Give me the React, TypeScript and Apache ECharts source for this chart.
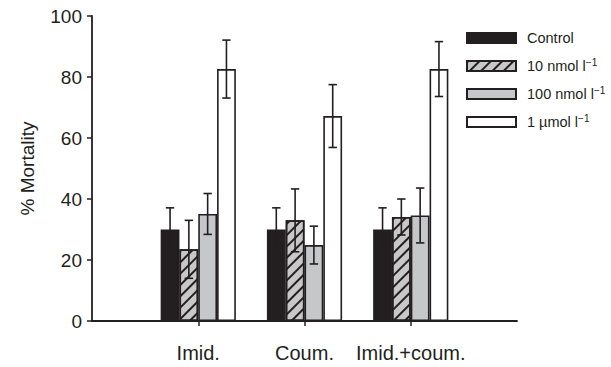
import React, { useEffect, useRef } from "react";
import * as echarts from "echarts";

const categories = ["", "Imid.", "Coum.", "Imid.+coum.", ""];
const seriesNames = ["Control", "10 nmol l{s|−1}", "100 nmol l{s|−1}", "1 µmol l{s|−1}"];
const legendIds = ["Control", "10 nmol", "100 nmol", "1 µmol"];
const controlValues = [30, 30, 30];
const nmol10Values = [23.5, 33, 34.1];
const nmol100Values = [35.1, 24.9, 34.6];
const umol1Values = [82.6, 67.2, 82.6];
const controlErr = [7.1, 7.1, 7.1];
const nmol10Err = [9.5, 10.3, 5.9];
const nmol100Err = [6.7, 6.2, 9.0];
const umol1Err = [9.5, 10.3, 9.0];
const yTicks = [0, 20, 40, 60, 80, 100];

const INK = "#231f20";
const BW = 18.8;

export default function App() {
  const ref = useRef<HTMLDivElement>(null);
  useEffect(() => {
    document.body.style.margin = "0";
    if (!ref.current) return;
    const chart = echarts.init(ref.current, null, { renderer: "svg" });
    const values = [controlValues, nmol10Values, nmol100Values, umol1Values];
    const errs = [controlErr, nmol10Err, nmol100Err, umol1Err];
    const pad = (arr: number[]) => ["-", ...arr, "-"];
    const colors = [INK, "#c8c8c8", "#c6c7c9", "#ffffff"];
    const barSeries = legendIds.map((name, k) => ({
      type: "bar",
      name,
      data: pad(values[k]),
      barWidth: BW,
      barGap: "0%",
      itemStyle: {
        color: colors[k],
        borderColor: INK,
        borderWidth: 1.6,
        decal:
          k === 1
            ? {
                symbol: "rect",
                symbolSize: 1,
                dashArrayX: [1, 0],
                dashArrayY: [1.5, 6],
                rotation: -Math.PI / 4,
                color: INK,
              }
            : undefined,
      },
      z: 2,
    }));
    const errData: number[][] = [];
    values.forEach((arr, k) =>
      arr.forEach((v, i) => errData.push([i + 1, k, v, errs[k][i]]))
    );
    const errSeries = {
      type: "custom",
      data: errData,
      encode: { x: 0, y: 2 },
      z: 5,
      renderItem: (params: any, api: any) => {
        const ci = api.value(0);
        const k = api.value(1);
        const v = api.value(2);
        const e = api.value(3);
        const off = (k - 1.5) * BW;
        const top = api.coord([ci, v + e]);
        const bot = api.coord([ci, v - e]);
        const x = top[0] + off;
        const cap = 4.2;
        const st = { stroke: INK, lineWidth: 1.6 };
        return {
          type: "group",
          children: [
            { type: "line", shape: { x1: x, y1: top[1], x2: x, y2: bot[1] }, style: st },
            { type: "line", shape: { x1: x - cap, y1: top[1], x2: x + cap, y2: top[1] }, style: st },
            { type: "line", shape: { x1: x - cap, y1: bot[1], x2: x + cap, y2: bot[1] }, style: st },
          ],
        };
      },
    };
    chart.setOption({
      animation: false,
      textStyle: { fontFamily: "Liberation Sans, Arial, sans-serif" },
      grid: { left: 92, right: 94, top: 16, bottom: 46, containLabel: false },
      legend: {
        orient: "vertical",
        left: 466,
        top: 29,
        padding: 0,
        itemWidth: 49,
        itemHeight: 10,
        itemGap: 10,
        icon: "rect",
        data: legendIds,
        formatter: (name: string) => seriesNames[legendIds.indexOf(name)],
        textStyle: {
          color: INK,
          fontSize: 14.5,
          lineHeight: 18,
          padding: [0, 0, 0, 6],
          overflow: "none",
          rich: {
            s: { fontSize: 10, verticalAlign: "top", lineHeight: 18, color: INK },
          },
        },
      },
      xAxis: {
        type: "category",
        data: categories,
        boundaryGap: false,
        axisLine: { lineStyle: { color: INK, width: 1.8 } },
        axisTick: {
          length: 5,
          interval: (i: number) => i >= 1 && i <= 3,
          lineStyle: { color: INK, width: 1.5 },
        },
        axisLabel: { color: INK, fontSize: 20, margin: 22, interval: 0 },
        splitLine: { show: false },
      },
      yAxis: {
        type: "value",
        min: 0,
        max: 100,
        interval: 20,
        name: "% Mortality",
        nameLocation: "middle",
        nameGap: 55,
        nameTextStyle: { color: INK, fontSize: 19 },
        axisLine: { show: true, lineStyle: { color: INK, width: 1.8 } },
        axisTick: { show: true, length: 5, lineStyle: { color: INK, width: 1.5 } },
        axisLabel: {
          color: INK,
          fontSize: 19,
          margin: 10,
          formatter: (v: number) => (yTicks.includes(v) ? String(v) : ""),
        },
        splitLine: { show: false },
      },
      series: [...barSeries, errSeries],
    });
    return () => chart.dispose();
  }, []);
  return <div ref={ref} style={{ width: 611, height: 367 }} />;
}
